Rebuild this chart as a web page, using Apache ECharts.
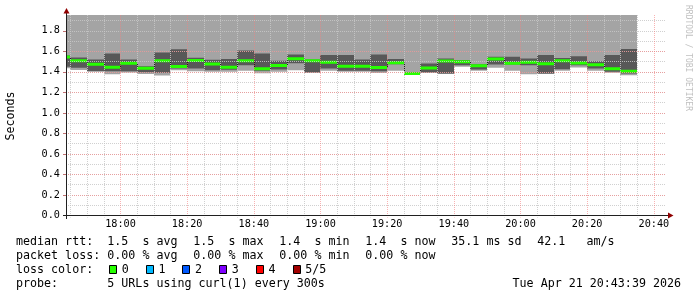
<!DOCTYPE html>
<html><head><meta charset="utf-8">
<script src="https://cdn.jsdelivr.net/npm/echarts@6/dist/echarts.min.js"></script>
<style>html,body{margin:0;padding:0;background:#fff}#c{width:697px;height:297px}</style>
</head><body><div id="c"></div>
<script>
// ---- data ----
const binEnds = ['17:45','17:50','17:55','18:00','18:05','18:10','18:15','18:20','18:25','18:30','18:35','18:40',
  '18:45','18:50','18:55','19:00','19:05','19:10','19:15','19:20','19:25','19:30','19:35','19:40',
  '19:45','19:50','19:55','20:00','20:05','20:10','20:15','20:20','20:25','20:30','20:35'];
const minRtt = [1.435,1.418,1.403,1.376,1.394,1.380,1.364,1.415,1.405,1.400,1.400,1.410,
  1.386,1.400,1.416,1.390,1.410,1.400,1.400,1.388,1.410,1.370,1.390,1.380,
  1.449,1.410,1.439,1.410,1.376,1.380,1.410,1.442,1.410,1.390,1.366];
const lowRtt = [1.450,1.440,1.406,1.406,1.406,1.396,1.390,1.432,1.432,1.416,1.420,1.465,
  1.410,1.423,1.484,1.393,1.432,1.410,1.410,1.405,1.474,1.372,1.393,1.383,
  1.465,1.423,1.472,1.472,1.465,1.383,1.425,1.465,1.432,1.400,1.383];
const medianRtt = [1.545,1.508,1.475,1.445,1.484,1.434,1.508,1.452,1.511,1.476,1.445,1.509,
  1.430,1.462,1.528,1.508,1.493,1.454,1.454,1.442,1.489,1.383,1.437,1.506,
  1.498,1.459,1.525,1.483,1.493,1.479,1.508,1.486,1.470,1.430,1.406];
const highRtt = [1.560,1.540,1.521,1.579,1.521,1.455,1.589,1.619,1.537,1.518,1.524,1.609,
  1.579,1.508,1.570,1.521,1.563,1.563,1.521,1.570,1.524,1.395,1.481,1.530,
  1.515,1.475,1.547,1.547,1.530,1.563,1.535,1.553,1.504,1.563,1.622];
const maxRtt = [1.96,1.96,1.96,1.96,1.96,1.96,1.96,1.96,1.96,1.96,1.96,1.96,
  1.96,1.96,1.96,1.96,1.96,1.96,1.96,1.96,1.96,1.96,1.96,1.96,
  1.96,1.96,1.96,1.96,1.96,1.96,1.96,1.96,1.96,1.96,1.96];
const lossCount = [0,0,0,0,0,0,0,0,0,0,0,0,0,0,0,0,0,0,0,0,0,0,0,0,0,0,0,0,0,0,0,0,0,0,0];
const xTickLabels = ['18:00','18:20','18:40','19:00','19:20','19:40','20:00','20:20','20:40'];
const yTickLabels = ['0.0','0.2','0.4','0.6','0.8','1.0','1.2','1.4','1.6','1.8'];
const lossLabels = ['0','1','2','3','4','5/5'];
const lossColors = ['#26ff00','#00b8ff','#0059ff','#7e00ff','#ff0000','#a10000'];
const rttLegend = ['median rtt:', '1.5  s avg', '1.5  s max', '1.4  s min', '1.4  s now', '35.1 ms sd', '42.1   am/s'];
const lossLegend = ['packet loss:', '0.00 % avg', '0.00 % max', '0.00 % min', '0.00 % now'];

// ---- helpers ----
const toMin = s => { const p = s.split(':'); return (+p[0]) * 60 + (+p[1]); };
const fmtMin = v => { const h = Math.floor(v / 60), m = Math.round(v - h * 60); return h + ':' + (m < 10 ? '0' : '') + m; };
const X_MIN = 17 * 60 + 43 + 39 / 60, X_MAX = X_MIN + 180;
const Y_MAX = 1.954;
const MONO = '"DejaVu Sans Mono", "Liberation Mono", monospace';

const smokeData = binEnds.map((t, i) => [toMin(t), minRtt[i], lowRtt[i], medianRtt[i], highRtt[i], maxRtt[i], lossCount[i], i > 0 ? medianRtt[i - 1] : medianRtt[i]]);
const gridTimes = [];
for (let t = toMin('17:45'); t < X_MAX; t += 5) gridTimes.push([t, t % 20 === 0 ? 1 : 0]);

const MINOR = 'rgba(200,200,200,0.85)';
const MAJOR = 'rgba(245,128,128,0.6)';

function renderSmoke(params, api) {
  const tEnd = api.value(0);
  const xa = Math.round(api.coord([tEnd - 5, 0])[0]);
  const xb = Math.round(api.coord([tEnd, 0])[0]);
  const y = v => api.coord([tEnd, v])[1];
  const yMin = y(api.value(1)), yLo = y(api.value(2)), yMed = y(api.value(3)), yHi = y(api.value(4)), yMax = y(api.value(5));
  const yPrev = y(api.value(7));
  const w = xb - xa;
  const ch = [
    { type: 'rect', shape: { x: xa, y: yMax, width: w, height: yMin - yMax }, style: { fill: '#a4a4a4' } },
    { type: 'rect', shape: { x: xa, y: yHi, width: w, height: yLo - yHi }, style: { fill: '#585858' } }
  ];
  if (params.dataIndex > 0) {
    ch.push({ type: 'line', shape: { x1: xa + 0.5, y1: yPrev, x2: xa + 0.5, y2: yMed }, style: { stroke: '#202020', lineWidth: 1 } });
  }
  ch.push({ type: 'rect', shape: { x: xa, y: yMed - 1.5, width: w, height: 3 }, style: { fill: lossColors[api.value(6)] } });
  return { type: 'group', children: ch };
}
function renderGrid(params, api) {
  const cs = params.coordSys;
  const x = Math.round(api.coord([api.value(0), 0])[0]) + 0.5;
  const major = api.value(1) === 1;
  return { type: 'line', shape: { x1: x, y1: cs.y, x2: x, y2: cs.y + cs.height + 2 },
    style: { stroke: major ? MAJOR : MINOR, lineWidth: 1, lineDash: [1, 1] } };
}

const chart = echarts.init(document.getElementById('c'), null, { renderer: 'canvas' });
const legendFont = '11.66px ' + MONO;
const txt = (s, x, y, extra) => Object.assign({ type: 'text', x: x, y: y, style: Object.assign({ text: s, verticalAlign: 'middle', font: legendFont, fill: '#000' }, extra || {}) });
const graphics = [
  // axes with arrows
  { type: 'line', z: 20, shape: { x1: 63, y1: 215.5, x2: 669, y2: 215.5 }, style: { stroke: '#202020', lineWidth: 1 } },
  { type: 'line', z: 20, shape: { x1: 66.5, y1: 219, x2: 66.5, y2: 12 }, style: { stroke: '#202020', lineWidth: 1 } },
  { type: 'polygon', z: 21, shape: { points: [[668, 212.5], [668, 218.5], [673.5, 215.5]] }, style: { fill: '#900000' } },
  { type: 'polygon', z: 21, shape: { points: [[63.5, 13.5], [69.5, 13.5], [66.5, 8]] }, style: { fill: '#900000' } },
  // unit label
  { type: 'text', x: 11, y: 116, rotation: Math.PI / 2, style: { text: 'Seconds', x: 0, y: 0, align: 'center', verticalAlign: 'middle', font: '11.66px ' + MONO, fill: '#000' } },
  // watermark
  { type: 'text', x: 688, y: 5, rotation: -Math.PI / 2, style: { text: 'RRDTOOL / TOBI OETIKER', x: 0, y: 0, align: 'left', verticalAlign: 'middle', font: '8px ' + MONO, fill: '#c0c0c0' } },
  txt('loss color:', 16, 269.5),
  txt('probe:', 16, 283.5),
  txt('5 URLs using curl(1) every 300s', 107.3, 283.5),
  txt('Tue Apr 21 20:43:39 2026', 681, 283.5, { align: 'right' })
];
const colX = [16, 107.3, 193.3, 279.3, 365.3, 451.3, 537.3];
rttLegend.forEach((s, k) => graphics.push(txt(s, colX[k], 241.5)));
lossLegend.forEach((s, k) => graphics.push(txt(s, colX[k], 255.5)));
lossLabels.forEach((lab, k) => {
  const bx = 109 + 36.7 * k;
  graphics.push({ type: 'rect', shape: { x: Math.round(bx) + 0.5, y: 265.5, width: 7, height: 8 }, style: { fill: lossColors[k], stroke: '#000', lineWidth: 1 } });
  graphics.push(txt(lab, bx + 12.7, 269.5));
});

chart.setOption({
  animation: false,
  backgroundColor: '#ffffff',
  grid: { left: 66, right: 31, top: 15, bottom: 81.5, containLabel: false },
  xAxis: {
    type: 'value', min: X_MIN, max: X_MAX,
    axisLine: { show: false }, axisTick: { show: false }, splitLine: { show: false },
    axisLabel: { customValues: xTickLabels.map(toMin), formatter: v => fmtMin(v), fontFamily: MONO, fontSize: 10.2, color: '#000', margin: 4 }
  },
  yAxis: [
    {
      type: 'value', min: 0, max: Y_MAX, interval: 0.2, position: 'left', z: 3,
      axisLine: { show: false },
      axisTick: { show: true, length: 3, customValues: yTickLabels.map(Number), lineStyle: { color: '#c07070' } },
      axisLabel: { customValues: yTickLabels.map(Number), formatter: v => v.toFixed(1), fontFamily: MONO, fontSize: 10.2, color: '#000', margin: 6 },
      splitLine: { show: true, showMinLine: false, showMaxLine: false, lineStyle: { color: MAJOR, type: [1, 1], width: 1 } }
    },
    {
      type: 'value', min: 0, max: Y_MAX, interval: 0.1, position: 'left', z: 2.5,
      axisLine: { show: false }, axisTick: { show: false }, axisLabel: { show: false },
      splitLine: { show: true, showMinLine: false, showMaxLine: false, lineStyle: { color: MINOR, type: [1, 1], width: 1 } }
    }
  ],
  series: [
    { type: 'custom', name: 'smoke', renderItem: renderSmoke, data: smokeData, clip: true, silent: true, z: 2,
      encode: { x: 0, y: [1, 2, 3, 4] }, xAxisIndex: 0, yAxisIndex: 0 },
    { type: 'custom', name: 'vgrid', renderItem: renderGrid, data: gridTimes, clip: false, silent: true, z: 3,
      encode: { x: 0 }, xAxisIndex: 0, yAxisIndex: 0 }
  ],
  graphic: graphics
});
</script></body></html>
